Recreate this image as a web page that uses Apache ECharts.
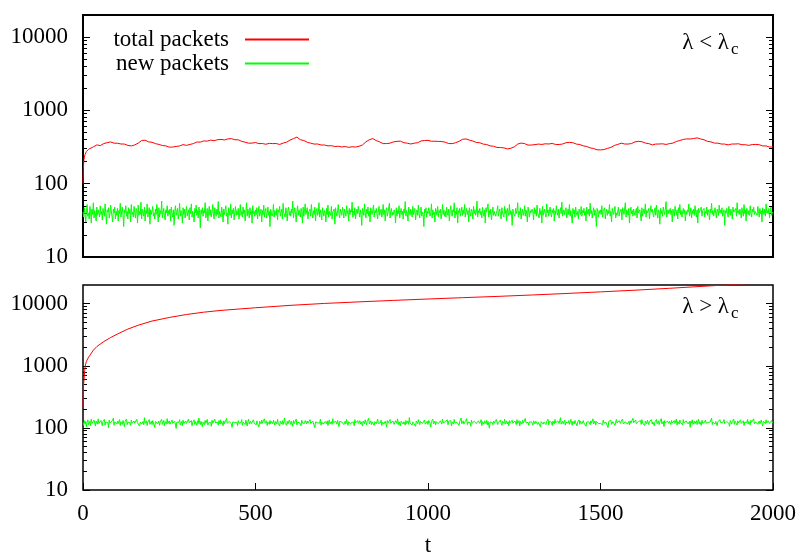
<!DOCTYPE html>
<html><head><meta charset="utf-8">
<script src="https://cdn.jsdelivr.net/npm/echarts@6/dist/echarts.min.js"></script>
<style>html,body{margin:0;padding:0;background:#fff}#c{width:800px;height:556px}</style>
</head><body><div id="c"></div>
<script>
// ---------- data ----------
const seriesNames = ['total packets', 'new packets'];
const yMajorTicks = [10, 100, 1000, 10000];
const yMinorTicks = [20,30,40,50,60,70,80,90,200,300,400,500,600,700,800,900,2000,3000,4000,5000,6000,7000,8000,9000];
const xTickInterval = 500;
const tMin = 0, tMax = 2000, yMin = 10, yMax = 20000;

// top panel (lambda < lambda_c)
const totalTopEarlyT = [0, 1, 2, 3, 4, 6, 8, 10, 13, 16];
const totalTopEarly  = [100, 160, 195, 215, 230, 250, 265, 275, 285, 295];
const totalTopStartT = 20, totalTopStep = 10;   // samples at t = 20, 30, ... 2000
const totalTop = [
302,318,338,331,352,363,371,357,356,348,
347,333,327,338,357,388,392,372,367,352,
343,332,328,315,316,322,327,341,333,343,
352,370,369,383,381,393,386,398,402,395,
408,412,398,397,378,368,357,358,364,352,
353,345,355,352,353,343,358,368,393,412,
432,398,388,367,357,347,348,337,337,328,
330,322,324,317,321,313,319,316,324,337,
372,398,412,387,372,352,353,357,372,378,
381,362,357,348,357,362,383,388,390,379,
380,377,376,368,353,352,362,378,403,408,
393,382,365,362,347,342,328,324,312,311,
308,298,304,318,347,358,352,336,337,341,
347,343,350,348,354,343,342,348,362,366,
362,347,342,328,322,308,302,290,289,292,
303,312,332,343,357,348,347,353,372,378,
374,358,352,338,347,348,350,343,352,358,
377,388,402,408,407,413,422,408,397,378,
372,358,357,348,347,338,347,348,350,340,
340,333,342,343,340,328,327,316,317];

const newStep = 2;   // samples at t = 0, 2, ... 2000
const newTop = [
41,35,47,38,30,44,52,36,40,33,49,42,29,45,38,55,34,43,39,31,48,37,44,40,35,
50,38,42,32,46,40,36,53,39,28,44,41,47,34,38,51,43,36,30,45,40,48,33,42,37,
46,31,43,39,54,35,41,48,37,26,44,40,50,36,42,33,47,39,45,30,52,38,41,35,49,
40,34,46,43,29,51,37,42,38,56,33,45,40,36,48,31,43,39,53,35,41,47,28,44,38,
42,49,36,40,33,45,38,52,41,30,47,35,43,39,58,34,41,46,37,32,44,40,50,36,43,
38,45,31,48,40,35,44,27,42,50,37,41,46,33,39,54,36,43,40,29,47,38,45,34,42,
49,36,41,44,32,47,39,53,35,42,38,30,46,40,51,37,43,34,48,41,25,44,39,47,36,
43,40,55,34,38,46,31,42,49,37,44,35,41,52,39,33,47,40,36,45,38,57,34,42,40,
35,48,41,30,45,38,43,50,36,40,28,47,42,37,53,34,44,39,46,32,41,49,37,43,38,
46,33,40,52,37,42,35,48,39,44,31,41,55,36,45,40,34,47,38,43,29,50,39,42,36,
44,38,47,33,41,49,36,40,45,30,43,38,51,35,42,46,34,39,48,37,42,26,45,40,36,
39,52,35,43,40,37,46,32,44,41,49,36,38,45,33,54,40,42,35,47,39,31,44,48,37,
42,36,45,40,58,34,41,47,38,30,43,50,37,44,39,35,46,41,29,48,36,42,53,38,40,
47,33,41,39,45,36,52,40,34,43,38,48,31,42,46,37,40,55,35,44,39,32,47,41,36,
43,40,30,46,38,51,35,42,44,37,49,33,41,39,45,28,47,40,36,43,52,38,34,45,41,
37,48,42,34,45,40,36,50,39,43,31,46,38,44,41,56,35,42,37,47,33,40,45,39,49,
41,35,44,38,27,46,42,37,53,40,34,45,39,48,36,42,30,47,41,38,44,51,35,43,40,
46,39,33,42,49,37,41,45,35,40,52,38,44,31,43,47,36,40,39,54,34,42,46,37,41,
38,44,40,29,47,36,43,39,50,34,41,46,38,42,33,45,40,57,36,43,39,31,48,41,37,
45,41,35,49,38,42,46,32,40,44,37,51,39,34,43,48,36,41,38,26,45,40,47,35,42,
39,47,43,36,40,53,34,44,38,41,30,46,42,37,49,35,43,40,45,33,39,52,38,44,36,
42,35,48,40,37,45,31,43,50,39,36,44,41,55,34,42,38,47,29,43,40,46,36,41,48,
37,44,39,52,35,41,46,38,43,30,47,40,36,45,42,33,49,39,44,37,41,58,35,43,40,
46,38,42,34,48,40,36,44,29,47,41,39,53,35,43,38,45,32,40,48,37,42,44,36,39,
43,50,36,41,45,38,33,47,40,42,35,49,39,44,31,46,41,37,52,38,43,40,27,45,39,
41,36,46,39,43,55,35,42,38,47,33,40,45,37,41,50,36,44,39,30,48,42,35,43,40,
38,45,41,32,47,39,44,36,51,40,42,34,46,38,43,29,49,37,41,45,39,35,53,40,44,
36,42,48,39,35,44,40,46,31,43,38,50,41,37,45,34,42,47,39,56,36,41,44,38,43,
47,34,40,45,38,52,36,43,41,29,46,39,44,35,48,40,37,42,33,45,41,38,49,36,43,
40,46,37,42,31,48,41,38,45,36,54,39,43,34,41,47,37,44,40,26,46,42,35,43,39,
44,38,50,35,42,40,47,33,41,45,37,43,39,52,36,42,30,46,41,38,44,49,34,40,37,
42,48,36,41,39,45,32,47,43,38,40,55,35,44,41,37,46,29,42,48,39,43,36,45,40,
37,43,46,34,49,40,38,44,42,31,47,36,41,45,39,53,35,43,40,38,46,33,42,50,41,
45,39,35,42,47,37,51,40,34,44,41,28,46,39,43,36,48,42,38,45,57,35,41,44,39,
41,46,38,43,30,45,40,36,49,42,37,44,33,47,40,52,38,43,35,41,46,39,44,31,42,
38,44,41,53,36,40,47,34,43,39,45,37,50,41,35,44,29,46,40,42,38,48,36,43,41,
46,35,42,39,48,37,44,41,32,45,40,54,38,43,36,41,47,39,34,45,42,37,51,40,44,
39,47,36,41,44,27,43,40,46,38,35,49,42,37,45,40,33,48,41,43,39,46,36,55,40,
43,38,45,40,34,47,41,36,52,39,44,31,46,42,38,43,37,50,40,35,45,41,48,38,42,
40,44,37,49,42,35,46,39,43,30,47,41,38,45,36,53,40,43,39,46,34,42,48,37,41,
40];

// bottom panel (lambda > lambda_c)
const totalBottomT = [0,1,2,3,5,7,10,15,20,30,40,60,80,100,130,160,200,250,300,350,400,500,600,700,800,900,1000,1100,1200,1300,1400,1500,1600,1700,1800,1900,2000];
const totalBottom  = [210,400,520,600,850,1030,1180,1340,1480,1780,2040,2450,2850,3250,3900,4500,5250,6000,6700,7300,7800,8600,9400,10100,10700,11300,11900,12500,13100,13800,14600,15500,16500,17700,19100,20600,22000];
const newBottom = [
121,110,131,116,127,104,124,135,113,120,128,109,138,118,125,112,133,119,107,129,122,115,140,117,126,
114,132,120,108,127,118,137,111,124,130,116,122,101,134,119,126,113,129,121,143,110,125,118,131,115,
128,117,123,136,109,126,120,114,132,119,105,127,122,139,113,124,130,116,121,110,134,118,126,112,129,
119,125,111,138,121,116,129,107,124,133,115,120,127,112,146,118,123,130,109,125,119,136,114,122,128,
113,131,120,124,102,127,118,135,116,122,129,110,125,119,137,114,121,132,108,126,120,115,141,117,124,
130,115,122,110,134,119,126,113,128,121,98,124,131,117,123,136,112,120,127,109,133,118,125,114,129,
118,127,112,139,120,116,125,131,108,123,119,135,114,126,121,110,130,117,144,122,113,128,119,105,124,
126,113,132,118,124,137,111,121,128,115,122,106,133,119,125,112,139,120,116,127,123,110,131,117,135,
115,128,121,108,130,117,124,113,142,119,126,111,127,120,134,116,102,125,118,132,121,114,129,123,109,
131,119,114,127,122,136,110,124,118,129,113,133,120,107,126,138,115,121,128,117,124,111,135,119,125,
120,112,130,117,125,104,128,121,116,134,119,126,113,140,118,123,130,109,125,120,114,132,117,127,122,
117,133,120,111,127,122,115,137,118,124,108,129,121,116,131,113,125,145,119,122,110,128,116,124,134,
124,114,128,121,106,132,117,125,119,139,112,123,130,115,121,127,108,134,120,126,113,118,131,122,116,
129,119,111,126,136,118,123,113,128,120,131,101,125,117,133,121,114,127,119,138,110,124,128,115,121,
112,127,123,117,130,109,124,135,116,122,126,114,141,119,125,111,129,120,115,132,118,105,127,123,130,
125,118,134,113,120,128,116,137,121,110,126,119,132,114,123,129,117,124,108,136,120,127,113,131,118,
121,131,115,126,119,107,129,122,117,135,124,112,127,120,143,116,122,130,113,125,119,134,110,126,121,
116,123,138,118,112,127,121,133,109,124,130,115,122,128,117,104,131,120,126,113,137,119,124,116,129,
127,114,120,131,124,118,140,113,125,119,108,128,122,135,115,126,120,111,132,117,123,129,114,147,120,
119,128,111,125,133,116,122,106,129,121,117,136,124,113,127,120,131,118,110,126,134,115,123,119,128,
114,132,124,118,103,127,120,138,116,123,129,112,125,119,134,117,122,109,130,124,115,139,120,126,113,
126,117,121,135,112,128,119,124,131,108,125,122,116,137,120,113,129,123,118,132,110,127,121,144,117,
122,130,115,120,127,118,141,113,124,129,116,121,106,133,119,126,114,128,120,135,117,123,111,130,125,
118,124,136,109,126,121,115,130,123,117,132,112,127,120,99,125,118,134,122,113,129,119,126,115,137,
130,113,122,127,117,134,120,110,128,124,118,139,115,123,130,116,125,108,131,121,126,114,133,119,122,
116,129,120,113,136,118,124,131,107,127,121,115,133,119,126,112,142,120,117,128,123,110,125,132,118,
125,119,111,130,122,116,128,120,135,114,123,129,117,104,126,121,134,115,124,119,131,113,127,122,138,
112,127,133,118,124,109,129,121,116,137,120,125,113,130,122,118,127,146,115,123,128,117,120,134,111,
123,117,126,120,131,114,122,138,119,110,128,124,116,132,121,127,108,125,119,135,114,129,122,117,126,
131,120,115,128,106,124,133,118,126,121,113,130,119,125,140,116,122,129,111,127,120,136,117,123,114,
118,126,122,112,134,119,127,115,123,130,117,101,128,121,125,133,114,120,126,118,131,110,124,137,120,
127,113,131,124,118,129,121,139,116,122,108,126,120,134,115,123,128,112,130,119,125,117,143,121,116,
120,134,117,123,112,127,119,125,131,114,136,120,118,126,109,129,122,116,133,124,113,128,121,119,135,
115,124,129,108,126,121,137,117,123,130,113,125,119,141,116,122,127,105,131,120,126,114,129,123,118,
128,119,113,132,120,116,125,131,118,124,139,111,127,121,115,134,122,118,128,112,136,120,124,117,130,
121,130,116,124,127,102,129,119,135,114,122,128,117,125,131,113,120,138,116,126,122,110,133,119,124,
116,123,134,119,111,128,122,116,130,125,118,144,113,124,120,129,115,127,132,108,125,121,117,136,122,
129,115,121,128,136,117,124,112,127,120,133,118,106,131,123,116,126,121,139,114,128,119,125,111,130,
120,127,113,135,118,125,121,130,109,124,117,129,122,137,115,127,120,112,133,123,118,126,140,116,123,
125,118,131,114,122,129,116,124,134,119,107,128,121,126,117,135,120,113,130,124,118,127,115,132,121,
119];

// ---------- build ----------
const pairs = (ts, vs) => vs.map((v, i) => [ts[i], v]);
const stepPairs = (t0, step, vs) => vs.map((v, i) => [t0 + i * step, v]);

const totalTopData = pairs(totalTopEarlyT, totalTopEarly).concat(stepPairs(totalTopStartT, totalTopStep, totalTop));
const newTopData = stepPairs(0, newStep, newTop);
const totalBottomData = pairs(totalBottomT, totalBottom);
const newBottomData = stepPairs(0, newStep, newBottom);

const FONT = 'Liberation Serif';
const RED = '#ff0000', GREEN = '#00ff00';

function yAxesFor(gridIndex) {
  const base = {type: 'log', logBase: 10, min: yMin, max: yMax, gridIndex,
    axisLine: {show: false}, splitLine: {show: false}, minorTick: {show: false}};
  const tickStyle = {color: '#000', width: 1};
  return [
    Object.assign({}, base, {position: 'left',
      axisTick: {show: true, inside: true, length: 7, customValues: yMajorTicks, lineStyle: tickStyle},
      axisLabel: {show: true, customValues: yMajorTicks, formatter: v => String(Math.round(v)),
        fontFamily: FONT, fontSize: 23, color: '#000', margin: 15}}),
    Object.assign({}, base, {position: 'left',
      axisTick: {show: true, inside: true, length: 4, customValues: yMinorTicks, lineStyle: tickStyle},
      axisLabel: {show: false}}),
    Object.assign({}, base, {position: 'right',
      axisTick: {show: true, inside: true, length: 7, customValues: yMajorTicks, lineStyle: tickStyle},
      axisLabel: {show: false}}),
    Object.assign({}, base, {position: 'right',
      axisTick: {show: true, inside: true, length: 4, customValues: yMinorTicks, lineStyle: tickStyle},
      axisLabel: {show: false}})
  ];
}

const lineSeries = (name, color, xi, yi, data) => ({
  name, type: 'line', xAxisIndex: xi, yAxisIndex: yi, data,
  symbol: 'none', showSymbol: false, sampling: null, clip: true,
  lineStyle: {color, width: 1}, itemStyle: {color}, emphasis: {disabled: true}
});

const chart = echarts.init(document.getElementById('c'), null, {renderer: 'canvas'});
chart.setOption({
  animation: false,
  backgroundColor: '#fff',
  grid: [
    {left: 83, top: 15, width: 690, height: 242, show: true, borderColor: '#000', borderWidth: 2, outerBoundsMode: 'none'},
    {left: 83, top: 285, width: 690, height: 205, show: true, borderColor: '#000', borderWidth: 1.5, outerBoundsMode: 'none'}
  ],
  xAxis: [
    {type: 'value', gridIndex: 0, min: tMin, max: tMax, axisLine: {show: false}, axisTick: {show: false},
     axisLabel: {show: false}, splitLine: {show: false}},
    {type: 'value', gridIndex: 1, min: tMin, max: tMax, interval: xTickInterval, axisLine: {show: false},
     axisTick: {show: true, inside: true, length: 7, lineStyle: {color: '#000', width: 1}},
     axisLabel: {fontFamily: FONT, fontSize: 23, color: '#000', margin: 12, formatter: v => String(v)},
     splitLine: {show: false},
     name: 't', nameLocation: 'middle', nameGap: 44,
     nameTextStyle: {fontFamily: FONT, fontSize: 23, color: '#000'}}
  ],
  yAxis: yAxesFor(0).concat(yAxesFor(1)),
  legend: {
    orient: 'vertical', align: 'right', right: 490, top: 28, itemGap: 1, padding: 0,
    itemWidth: 64, itemHeight: 10, selectedMode: false,
    itemStyle: {color: 'rgba(0,0,0,0)', borderWidth: 0},
    data: seriesNames,
    textStyle: {fontFamily: FONT, fontSize: 23, color: '#000', padding: [0, 11, 0, 0]}
  },
  graphic: [
    {type: 'text', x: 729, y: 43, style: {text: 'λ < λ', fontFamily: FONT, fontSize: 23, fill: '#000', align: 'right', verticalAlign: 'middle'}},
    {type: 'text', x: 731, y: 50, style: {text: 'c', fontFamily: FONT, fontSize: 17, fill: '#000', align: 'left', verticalAlign: 'middle'}},
    {type: 'text', x: 729, y: 307, style: {text: 'λ > λ', fontFamily: FONT, fontSize: 23, fill: '#000', align: 'right', verticalAlign: 'middle'}},
    {type: 'text', x: 731, y: 314, style: {text: 'c', fontFamily: FONT, fontSize: 17, fill: '#000', align: 'left', verticalAlign: 'middle'}}
  ],
  series: [
    lineSeries(seriesNames[0], RED, 0, 0, totalTopData),
    lineSeries(seriesNames[1], GREEN, 0, 0, newTopData),
    lineSeries(seriesNames[0], RED, 1, 4, totalBottomData),
    lineSeries(seriesNames[1], GREEN, 1, 4, newBottomData)
  ]
});
</script></body></html>
